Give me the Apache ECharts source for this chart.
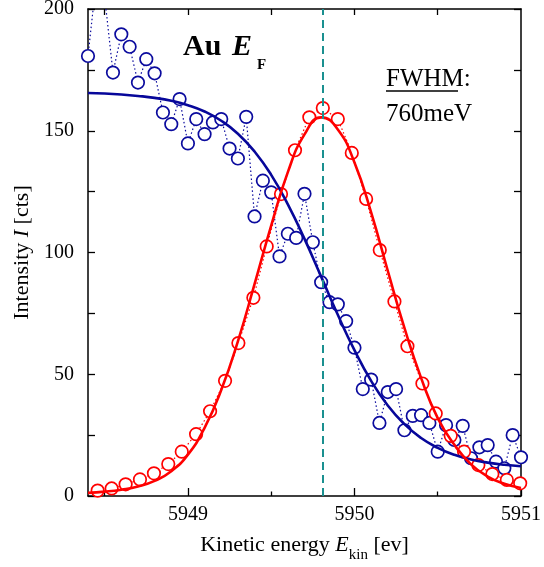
<!DOCTYPE html>
<html><head><meta charset="utf-8">
<script src="https://cdn.jsdelivr.net/npm/echarts@6/dist/echarts.min.js"></script>
<style>html,body{margin:0;padding:0;background:#fff}#c{width:544px;height:567px}</style>
</head><body><div id="c"></div>
<script>
// Measured data (blue: Fermi edge spectrum, red: derivative / peak)
const BLUE_X = [5948.40,5948.45,5948.50,5948.55,5948.60,5948.65,5948.70,5948.75,5948.80,5948.85,
  5948.90,5948.95,5949.00,5949.05,5949.10,5949.15,5949.20,5949.25,5949.30,5949.35,
  5949.40,5949.45,5949.50,5949.55,5949.60,5949.65,5949.70,5949.75,5949.80,5949.85,
  5949.90,5949.95,5950.00,5950.05,5950.10,5950.15,5950.20,5950.25,5950.30,5950.35,
  5950.40,5950.45,5950.50,5950.55,5950.60,5950.65,5950.70,5950.75,5950.80,5950.85,
  5950.90,5950.95,5951.00];
const BLUE_Y = [180.7,212,205,173.9,189.6,184.5,169.8,179.4,173.6,157.5,
  152.7,163.0,144.8,154.8,148.6,153.4,154.8,142.7,138.6,155.7,
  114.8,129.5,124.7,98.4,107.7,106.0,124.1,104.2,87.8,79.6,
  78.7,71.8,60.9,43.9,47.8,30.0,42.7,43.9,27.0,32.9,
  33.2,30.0,18.2,29.1,23.0,28.8,15.5,20.0,20.9,14.1,
  11.4,25.0,15.9];
const RED_X = [5948.458,5948.542,5948.626,5948.712,5948.796,5948.882,5948.963,5949.049,5949.133,5949.223,
  5949.303,5949.393,5949.473,5949.559,5949.643,5949.729,5949.810,5949.900,5949.984,5950.070,
  5950.152,5950.240,5950.318,5950.408,5950.488,5950.578,5950.658,5950.744,5950.828,5950.915,5950.995];
const RED_Y = [2.2,3.1,4.8,6.8,9.3,13.1,18.2,25.4,34.8,47.3,
  62.8,81.4,102.5,124.0,142.0,155.5,159.3,154.8,140.9,122.0,
  101.0,79.9,61.5,46.2,33.9,24.7,18.2,12.7,9.0,6.6,5.2];
// Fit curves
const FIT_X = [5948.4,5948.5,5948.6,5948.7,5948.8,5948.9,5949.0,5949.1,5949.2,5949.3,
  5949.4,5949.5,5949.6,5949.7,5949.8,5949.9,5950.0,5950.1,5950.2,5950.3,
  5950.4,5950.5,5950.6,5950.7,5950.8,5950.9,5951.0];
const BLUE_FIT = [165.5,165.3,164.9,164.3,163.5,162.3,160.5,157.9,154.1,148.8,
  141.5,131.9,119.8,105.6,90.1,74.4,59.9,47.3,37.2,29.5,
  23.8,19.8,16.9,15.0,13.7,12.8,12.2];
const RED_FIT = [1.3,1.8,2.6,3.9,6.2,10.2,17.0,28.0,43.5,63.5,
  87.0,111.0,133.0,148.5,155.5,150.5,137.0,116.5,92.5,69.0,
  48.5,32.0,21.0,13.0,8.0,5.0,3.3];
const EF = 5949.81;
const X_MIN = 5948.4, X_MAX = 5951;
const X_LABELS = [5949, 5950, 5951];
const X_MAJOR = [5949, 5950, 5951];
const X_HALF = [5948.5, 5949.5, 5950.5];
const X_TOP = [5948.5, 5949, 5949.5, 5950, 5950.5];
const Y_MIN = 0, Y_MAX = 200, Y_STEP = 50;

const FONT = '"Liberation Serif", "Times New Roman", serif';
const BLUE = '#0b0b9e';
const BLUE_LINE = '#07079a';
const RED = '#ff0000';
const TEAL = '#1a9090';

const W = 544, H = 567;
const G = {left: 88, right: 23, top: 9, bottom: 71};
const GW = W - G.left - G.right;   // grid width
const GH = H - G.top - G.bottom;   // grid height

const pairs = (xs, ys) => xs.map((x, i) => [x, ys[i]]);

const chart = echarts.init(document.getElementById('c'), null, {renderer: 'canvas'});
const lineOn = {show: true, onZero: false, lineStyle: {color: '#000', width: 1.5}};
const lineOff = {show: false, onZero: false};
const tickStyle = {color: '#000', width: 1.3};
const noLabel = {show: false};
const noSplit = {show: false};

// Ticks are drawn outward by an axis placed on the opposite side and shifted
// onto the frame with a negative offset, so they point into the plot.
chart.setOption({
  animation: false,
  backgroundColor: '#fff',
  grid: {left: G.left, right: G.right, top: G.top, bottom: G.bottom, containLabel: false, outerBoundsMode: 'none'},
  xAxis: [
    { // bottom frame + labels + name
      type: 'value', min: X_MIN, max: X_MAX, position: 'bottom',
      axisLine: lineOn, axisTick: {show: false}, splitLine: noSplit,
      axisLabel: {show: true, customValues: X_LABELS, formatter: v => String(v), fontFamily: FONT, fontSize: 20, color: '#000', margin: 9},
      name: '{n|Kinetic energy }{i|E}{s|kin}{n| [ev]}',
      nameLocation: 'middle', nameGap: 31,
      nameTextStyle: {
        rich: {
          n: {fontFamily: FONT, fontSize: 22, color: '#000', lineHeight: 36, verticalAlign: 'middle'},
          i: {fontFamily: FONT, fontSize: 22, fontStyle: 'italic', color: '#000', lineHeight: 36, verticalAlign: 'middle'},
          s: {fontFamily: FONT, fontSize: 15, color: '#000', lineHeight: 14, verticalAlign: 'bottom'}
        }
      }
    },
    { // bottom inward major ticks
      type: 'value', min: X_MIN, max: X_MAX, position: 'top', offset: -GH,
      axisLine: lineOff, axisLabel: noLabel, splitLine: noSplit,
      axisTick: {show: true, inside: false, length: 8, customValues: X_MAJOR, lineStyle: tickStyle}
    },
    { // bottom inward half ticks
      type: 'value', min: X_MIN, max: X_MAX, position: 'top', offset: -GH,
      axisLine: lineOff, axisLabel: noLabel, splitLine: noSplit,
      axisTick: {show: true, inside: false, length: 4.5, customValues: X_HALF, lineStyle: tickStyle}
    },
    { // top frame + inward ticks
      type: 'value', min: X_MIN, max: X_MAX, position: 'bottom', offset: -GH,
      axisLine: lineOn, axisLabel: noLabel, splitLine: noSplit,
      axisTick: {show: true, inside: false, length: 6, customValues: X_TOP, lineStyle: tickStyle}
    }
  ],
  yAxis: [
    { // left frame + labels + name
      type: 'value', min: Y_MIN, max: Y_MAX, interval: Y_STEP, position: 'left',
      axisLine: lineOn, axisTick: {show: false}, splitLine: noSplit,
      axisLabel: {fontFamily: FONT, fontSize: 20, color: '#000', margin: 14},
      name: '{n|Intensity }{i|I}{n| [cts]}',
      nameLocation: 'middle', nameGap: 52,
      nameTextStyle: {
        rich: {
          n: {fontFamily: FONT, fontSize: 22, color: '#000'},
          i: {fontFamily: FONT, fontSize: 22, fontStyle: 'italic', color: '#000'}
        }
      }
    },
    { // left inward ticks
      type: 'value', min: Y_MIN, max: Y_MAX, interval: Y_STEP, position: 'right', offset: -GW,
      axisLine: lineOff, axisLabel: noLabel, splitLine: noSplit,
      axisTick: {show: true, inside: false, length: 7, lineStyle: tickStyle},
      minorTick: {show: true, splitNumber: 2, length: 7, lineStyle: tickStyle}
    },
    { // right frame + inward ticks
      type: 'value', min: Y_MIN, max: Y_MAX, interval: Y_STEP, position: 'left', offset: -GW,
      axisLine: lineOn, axisLabel: noLabel, splitLine: noSplit,
      axisTick: {show: true, inside: false, length: 7, lineStyle: tickStyle},
      minorTick: {show: true, splitNumber: 2, length: 7, lineStyle: tickStyle}
    }
  ],
  series: [
    {
      type: 'line', name: 'blue data', data: pairs(BLUE_X, BLUE_Y),
      xAxisIndex: 0, yAxisIndex: 0, clip: true, z: 2,
      symbol: 'circle', symbolSize: 12.5, showSymbol: true,
      itemStyle: {color: '#fff', borderColor: BLUE, borderWidth: 1.7},
      lineStyle: {color: BLUE, width: 1.2, type: [1.5, 2.5]},
      emphasis: {disabled: true}
    },
    {
      type: 'line', name: 'red data', data: pairs(RED_X, RED_Y),
      xAxisIndex: 0, yAxisIndex: 0, clip: true, z: 2,
      symbol: 'circle', symbolSize: 12.5, showSymbol: true,
      itemStyle: {color: '#fff', borderColor: RED, borderWidth: 1.7},
      lineStyle: {color: RED, width: 1.2, type: [1.5, 2.5]},
      emphasis: {disabled: true}
    },
    {
      type: 'line', name: 'blue fit', data: pairs(FIT_X, BLUE_FIT),
      xAxisIndex: 0, yAxisIndex: 0, clip: true, z: 3, smooth: true,
      symbol: 'none', lineStyle: {color: BLUE_LINE, width: 2.6},
      emphasis: {disabled: true},
      markLine: {
        silent: true, symbol: ['none', 'none'], label: {show: false},
        lineStyle: {color: TEAL, width: 2, type: [8, 5]},
        data: [{xAxis: EF}]
      }
    },
    {
      type: 'line', name: 'red fit', data: pairs(FIT_X, RED_FIT),
      xAxisIndex: 0, yAxisIndex: 0, clip: true, z: 3, smooth: true,
      symbol: 'none', lineStyle: {color: RED, width: 2.6},
      emphasis: {disabled: true}
    }
  ],
  graphic: [
    {type: 'text', x: 183, y: 32, style: {text: 'Au', font: 'bold 30px ' + FONT, fill: '#000'}},
    {type: 'text', x: 232, y: 32, style: {text: 'E', font: 'italic bold 30px ' + FONT, fill: '#000'}},
    {type: 'text', x: 257, y: 57.5, style: {text: 'F', font: 'bold 15px ' + FONT, fill: '#000'}},
    {type: 'text', x: 386, y: 67, style: {text: 'FWHM:', font: '25px ' + FONT, fill: '#000'}},
    {type: 'line', shape: {x1: 386, y1: 91, x2: 458, y2: 91}, style: {stroke: '#000', lineWidth: 1.6}},
    {type: 'text', x: 386, y: 102, style: {text: '760meV', font: '25px ' + FONT, fill: '#000'}}
  ]
});
</script>
</body></html>
